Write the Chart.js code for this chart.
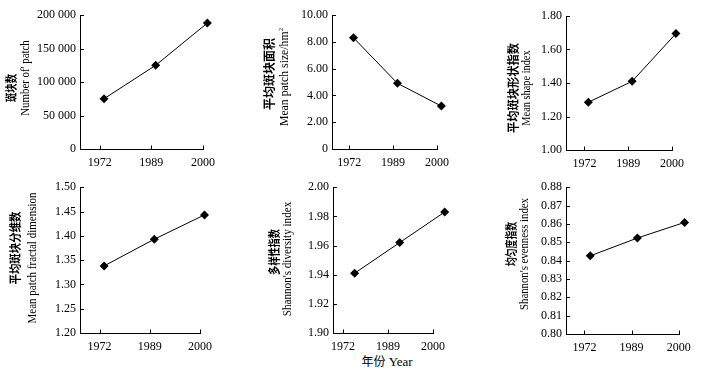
<!DOCTYPE html>
<html>
<head>
<meta charset="utf-8">
<script src="https://cdn.jsdelivr.net/npm/chart.js@4.4.1/dist/chart.umd.min.js"></script>
<style>
  body { margin: 0; background: #fff; width: 702px; height: 372px; position: relative; overflow: hidden; }
  canvas { position: absolute; }
  .yt { position: absolute; white-space: nowrap; color: #000; line-height: 1; }
  .cn { font-family: "Noto Sans CJK SC", sans-serif; font-weight: 700; font-size: 12px; }
  .en { font-family: "Liberation Serif", serif; font-size: 12px; }
  .en sup { font-size: 7px; }
  #xtitle { position: absolute; left: 387px; top: 361px; transform: translate(-50%, -50%); white-space: nowrap;
            font-family: "Liberation Serif", serif; font-size: 13px; }
  #xtitle .c { font-family: "Noto Sans CJK SC", sans-serif; font-size: 12px; }
</style>
</head>
<body>
<div id="xtitle"><span class="c">年份</span> Year</div>
<script>
// years on the x axis
const years = ['1972', '1989', '2000'];

// landscape metrics
const patchNumber = [75000, 125000, 188000];
const meanPatchSize = [8.3, 4.9, 3.2];
const meanShapeIndex = [1.285, 1.41, 1.695];
const fractalDimension = [1.338, 1.393, 1.443];
const diversityIndex = [1.941, 1.962, 1.983];
const evennessIndex = [0.8426, 0.8523, 0.8608];

const thousands = v => v === 0 ? '0' : String(v).replace(/\B(?=(\d{3})+(?!\d))/g, ' ');
const fixed2 = v => v === 0 ? '0' : v.toFixed(2);

// box = canvas [x, y, w, h]; axis = [left, end of x axis, top, bottom]
const panels = [
    { values: patchNumber, box: [0, 0, 235, 176], axis: [80, 203, 15, 149], y: [0, 200000, 50000], fmt: thousands,
      xMin: -0.38, shift: 0.085,
      cn: '斑块数', cnPos: [11, 88, 28], en: 'Number of\' patch', enPos: [24, 78, 75] },
    { values: meanPatchSize, box: [235, 0, 235, 176], axis: [332, 437, 15, 149], y: [0, 10, 2], fmt: fixed2,
      xMin: -0.39, shift: 0.1,
      cn: '平均斑块面积', cnPos: [269, 74, 72], en: 'Mean patch size/hm<sup>2</sup>', enPos: [283.5, 77, 98] },
    { values: meanShapeIndex, box: [470, 0, 232, 176], axis: [566, 672, 16, 150], y: [1, 1.8, 0.2], fmt: fixed2,
      xMin: -0.42, shift: 0.09,
      cn: '平均斑块形状指数', cnPos: [512.5, 88, 90], en: 'Mean shape index', enPos: [525, 88, 75] },
    { values: fractalDimension, box: [0, 176, 235, 196], axis: [80, 200, 185, 333], y: [1.2, 1.5, 0.05], fmt: fixed2,
      xMin: -0.39, shift: 0.09,
      cn: '平均斑块分维数', cnPos: [15, 248, 73], en: 'Mean patch fractal dimension', enPos: [32, 258, 131] },
    { values: diversityIndex, box: [235, 176, 235, 196], axis: [333, 433, 185, 333], y: [1.9, 2.0, 0.02], fmt: fixed2,
      xMin: -0.22, shift: 0.26,
      cn: '多样性指数', cnPos: [274, 252, 46], en: 'Shannon\'s diversity index', enPos: [287, 259, 115] },
    { values: evennessIndex, box: [470, 176, 232, 196], axis: [566, 681, 185, 334], y: [0.8, 0.88, 0.01], fmt: fixed2,
      xMin: -0.39, shift: 0.125,
      cn: '均匀度指数', cnPos: [511, 244, 44], en: 'Shannon\'s evenness index', enPos: [524, 254, 112] }
];

const X_END = 2;      // last category, where the drawn x axis stops
const X_EXTRA = 0.4;  // room on the right so the shifted last marker is not culled

// inward ticks + x axis line that stops at the last category
const axisMarks = {
    id: 'axisMarks',
    afterDraw(chart) {
        const { ctx, chartArea: a, scales: { x, y } } = chart;
        const by = Math.round(a.bottom) + 0.5;
        ctx.save();
        ctx.strokeStyle = '#000';
        ctx.lineWidth = 1;
        ctx.beginPath();
        ctx.moveTo(Math.round(a.left), by);
        ctx.lineTo(Math.round(x.getPixelForValue(X_END)) + 1, by);
        x.ticks.forEach(t => {
            const px = Math.round(x.getPixelForValue(t.value)) + 0.5;
            ctx.moveTo(px, by);
            ctx.lineTo(px, by - 4);
        });
        y.ticks.forEach(t => {
            const py = Math.round(y.getPixelForValue(t.value)) + 0.5;
            ctx.moveTo(a.left, py);
            ctx.lineTo(a.left + 4, py);
        });
        ctx.stroke();
        ctx.restore();
    }
};

function addTitle(html, cls, pos) {
    const d = document.createElement('div');
    d.className = 'yt ' + cls;
    d.innerHTML = html;
    document.body.appendChild(d);
    const w = d.offsetWidth, h = d.offsetHeight;
    const k = pos[2] / w;
    d.style.left = (pos[0] - w / 2) + 'px';
    d.style.top = (pos[1] - h / 2) + 'px';
    d.style.transform = 'rotate(-90deg) scaleX(' + k.toFixed(3) + ')';
}

const tickFont = { family: 'Liberation Serif', size: 12 };

panels.forEach(p => {
    const [bx, by, bw, bh] = p.box;
    const [left, xEnd, top, bottom] = p.axis;
    const unit = (xEnd - left) / (X_END - p.xMin);
    const right = xEnd + X_EXTRA * unit;

    const cv = document.createElement('canvas');
    cv.width = bw;
    cv.height = bh;
    cv.style.left = bx + 'px';
    cv.style.top = by + 'px';
    document.body.appendChild(cv);

    new Chart(cv.getContext('2d'), {
        type: 'line',
        data: {
            datasets: [{
                data: p.values.map((v, i) => ({ x: i + p.shift, y: v })),
                borderColor: '#000',
                borderWidth: 1,
                backgroundColor: '#000',
                pointStyle: 'rectRot',
                pointRadius: 4.5,
                pointBorderWidth: 0,
                tension: 0,
                clip: false
            }]
        },
        options: {
            responsive: false,
            animation: false,
            devicePixelRatio: 1,
            layout: { padding: { left: 0, top: top - by, right: bx + bw - right, bottom: 0 } },
            plugins: { legend: { display: false }, tooltip: { enabled: false } },
            scales: {
                x: {
                    type: 'linear',
                    min: p.xMin,
                    max: X_END + X_EXTRA,
                    afterBuildTicks: s => { s.ticks = years.map((_, i) => ({ value: i })); },
                    afterFit: s => { s.height = by + bh - bottom; },
                    grid: { display: false, drawTicks: false },
                    border: { display: false },
                    ticks: { color: '#000', font: tickFont, padding: 7, maxRotation: 0,
                             callback: v => years[v] ?? '' }
                },
                y: {
                    min: p.y[0],
                    max: p.y[1],
                    afterFit: s => { s.width = left - bx; },
                    grid: { display: false, drawTicks: false },
                    border: { color: '#000', width: 1 },
                    ticks: { color: '#000', font: tickFont, padding: 4, stepSize: p.y[2],
                             callback: v => p.fmt(v) }
                }
            }
        },
        plugins: [axisMarks]
    });

    addTitle(p.cn, 'cn', p.cnPos);
    addTitle(p.en, 'en', p.enPos);
});
</script>
</body>
</html>
